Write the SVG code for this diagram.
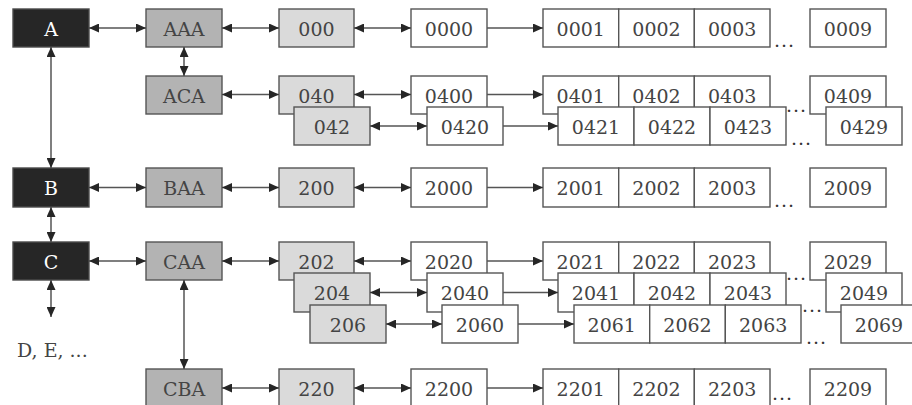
<svg xmlns="http://www.w3.org/2000/svg" width="912" height="405" viewBox="0 0 912 405">
<defs>
<marker id="ah" markerUnits="userSpaceOnUse" markerWidth="10" markerHeight="9" refX="10" refY="4.5" orient="auto-start-reverse" viewBox="0 0 10 9">
<path d="M0,0 L10,4.5 L0,9 z" fill="#262626"/>
</marker>
</defs>
<style>
g rect{stroke:#555;stroke-width:1.4}
.dk rect{fill:#262626;stroke:#4a4a4a}
.md rect{fill:#b3b3b3}
.lt rect{fill:#dadada}
.wh rect{fill:#fff}
text{font-family:"DejaVu Serif","Liberation Serif",serif;font-size:19px;fill:#444;text-anchor:middle}
.dk text{fill:#fff}
.dots{text-anchor:start;letter-spacing:1px;fill:#333}
#connectors line{stroke:#555;stroke-width:1.5}
.d{marker-start:url(#ah);marker-end:url(#ah)}
.s{marker-end:url(#ah)}
</style>
<rect x="0" y="0" width="912" height="405" fill="#fff"/>

<!-- Row A -->
<g id="nA" class="dk"><rect x="13" y="9" width="76" height="38"/><text x="51" y="36">A</text></g>
<g id="nAAA" class="md"><rect x="146" y="9" width="76" height="38"/><text x="184" y="36">AAA</text></g>
<g id="n000" class="lt"><rect x="279" y="9" width="75" height="38"/><text x="316.5" y="36">000</text></g>
<g id="n0000" class="wh"><rect x="411" y="9" width="76" height="38"/><text x="449" y="36">0000</text></g>
<g id="n0001" class="wh"><rect x="543" y="9" width="75.7" height="38"/><text x="580.8" y="36">0001</text></g>
<g id="n0002" class="wh"><rect x="618.7" y="9" width="75.7" height="38"/><text x="656.5" y="36">0002</text></g>
<g id="n0003" class="wh"><rect x="694.3" y="9" width="75.7" height="38"/><text x="732.2" y="36">0003</text></g>
<text class="dots" x="774" y="47">...</text>
<g id="n0009" class="wh"><rect x="810" y="9" width="76" height="38"/><text x="848" y="36">0009</text></g>

<!-- Row ACA -->
<g id="nACA" class="md"><rect x="146" y="76" width="76" height="38"/><text x="184" y="103">ACA</text></g>
<g id="n040" class="lt"><rect x="279" y="76" width="75" height="38"/><text x="316.5" y="103">040</text></g>
<g id="n0400" class="wh"><rect x="411" y="76" width="76" height="38"/><text x="449" y="103">0400</text></g>
<g id="n0401" class="wh"><rect x="543" y="76" width="75.7" height="38"/><text x="580.8" y="103">0401</text></g>
<g id="n0402" class="wh"><rect x="618.7" y="76" width="75.7" height="38"/><text x="656.5" y="103">0402</text></g>
<g id="n0403" class="wh"><rect x="694.3" y="76" width="75.7" height="38"/><text x="732.2" y="103">0403</text></g>
<g id="n0409" class="wh"><rect x="810" y="76" width="76" height="38"/><text x="848" y="103">0409</text></g>

<!-- Row 042 -->
<g id="n042" class="lt"><rect x="294" y="107" width="76" height="38"/><text x="332" y="134">042</text></g>
<g id="n0420" class="wh"><rect x="427" y="107" width="76" height="38"/><text x="465" y="134">0420</text></g>
<g id="n0421" class="wh"><rect x="558" y="107" width="76" height="38"/><text x="596" y="134">0421</text></g>
<g id="n0422" class="wh"><rect x="634" y="107" width="76" height="38"/><text x="672" y="134">0422</text></g>
<g id="n0423" class="wh"><rect x="710" y="107" width="76" height="38"/><text x="748" y="134">0423</text></g>
<text class="dots" x="786" y="112">...</text>
<text class="dots" x="791" y="145">...</text>
<g id="n0429" class="wh"><rect x="826" y="107" width="76" height="38"/><text x="864" y="134">0429</text></g>

<!-- Row B -->
<g id="nB" class="dk"><rect x="13" y="168" width="76" height="39"/><text x="51" y="195">B</text></g>
<g id="nBAA" class="md"><rect x="146" y="168" width="76" height="39"/><text x="184" y="195">BAA</text></g>
<g id="n200" class="lt"><rect x="279" y="168" width="75" height="39"/><text x="316.5" y="195">200</text></g>
<g id="n2000" class="wh"><rect x="411" y="168" width="76" height="39"/><text x="449" y="195">2000</text></g>
<g id="n2001" class="wh"><rect x="543" y="168" width="75.7" height="39"/><text x="580.8" y="195">2001</text></g>
<g id="n2002" class="wh"><rect x="618.7" y="168" width="75.7" height="39"/><text x="656.5" y="195">2002</text></g>
<g id="n2003" class="wh"><rect x="694.3" y="168" width="75.7" height="39"/><text x="732.2" y="195">2003</text></g>
<text class="dots" x="774" y="207">...</text>
<g id="n2009" class="wh"><rect x="810" y="168" width="76" height="39"/><text x="848" y="195">2009</text></g>

<!-- Row C -->
<g id="nC" class="dk"><rect x="13" y="242" width="76" height="38"/><text x="51" y="269">C</text></g>
<g id="nCAA" class="md"><rect x="146" y="242" width="76" height="38"/><text x="184" y="269">CAA</text></g>
<g id="n202" class="lt"><rect x="279" y="242" width="75" height="38"/><text x="316.5" y="269">202</text></g>
<g id="n2020" class="wh"><rect x="411" y="242" width="76" height="38"/><text x="449" y="269">2020</text></g>
<g id="n2021" class="wh"><rect x="543" y="242" width="75.7" height="38"/><text x="580.8" y="269">2021</text></g>
<g id="n2022" class="wh"><rect x="618.7" y="242" width="75.7" height="38"/><text x="656.5" y="269">2022</text></g>
<g id="n2023" class="wh"><rect x="694.3" y="242" width="75.7" height="38"/><text x="732.2" y="269">2023</text></g>
<g id="n2029" class="wh"><rect x="810" y="242" width="76" height="38"/><text x="848" y="269">2029</text></g>

<!-- Row 204 -->
<g id="n204" class="lt"><rect x="294" y="273" width="76" height="39"/><text x="332" y="300">204</text></g>
<g id="n2040" class="wh"><rect x="427" y="273" width="76" height="39"/><text x="465" y="300">2040</text></g>
<g id="n2041" class="wh"><rect x="558" y="273" width="76" height="39"/><text x="596" y="300">2041</text></g>
<g id="n2042" class="wh"><rect x="634" y="273" width="76" height="39"/><text x="672" y="300">2042</text></g>
<g id="n2043" class="wh"><rect x="710" y="273" width="76" height="39"/><text x="748" y="300">2043</text></g>
<text class="dots" x="786" y="280">...</text>
<g id="n2049" class="wh"><rect x="826" y="273" width="76" height="39"/><text x="864" y="300">2049</text></g>

<!-- Row 206 -->
<g id="n206" class="lt"><rect x="310" y="305" width="76" height="38"/><text x="348" y="332">206</text></g>
<g id="n2060" class="wh"><rect x="442" y="305" width="76" height="38"/><text x="480" y="332">2060</text></g>
<g id="n2061" class="wh"><rect x="574" y="305" width="75.7" height="38"/><text x="611.8" y="332">2061</text></g>
<g id="n2062" class="wh"><rect x="649.7" y="305" width="75.7" height="38"/><text x="687.5" y="332">2062</text></g>
<g id="n2063" class="wh"><rect x="725.3" y="305" width="75.7" height="38"/><text x="763.2" y="332">2063</text></g>
<text class="dots" x="802" y="312">...</text>
<text class="dots" x="806" y="344">...</text>
<g id="n2069" class="wh"><rect x="841" y="305" width="76" height="38"/><text x="879" y="332">2069</text></g>

<!-- Row CBA -->
<g id="nCBA" class="md"><rect x="146" y="369" width="76" height="38"/><text x="184" y="396">CBA</text></g>
<g id="n220" class="lt"><rect x="279" y="369" width="75" height="38"/><text x="316.5" y="396">220</text></g>
<g id="n2200" class="wh"><rect x="411" y="369" width="76" height="38"/><text x="449" y="396">2200</text></g>
<g id="n2201" class="wh"><rect x="543" y="369" width="75.7" height="38"/><text x="580.8" y="396">2201</text></g>
<g id="n2202" class="wh"><rect x="618.7" y="369" width="75.7" height="38"/><text x="656.5" y="396">2202</text></g>
<g id="n2203" class="wh"><rect x="694.3" y="369" width="75.7" height="38"/><text x="732.2" y="396">2203</text></g>
<text class="dots" x="772" y="400">...</text>
<g id="n2209" class="wh"><rect x="810" y="369" width="76" height="38"/><text x="848" y="396">2209</text></g>

<g id="nDE"><text x="17" y="357" style="text-anchor:start">D, E, ...</text></g>

<g id="connectors">
<line class="d" x1="89" y1="28" x2="146" y2="28"/>
<line class="d" x1="222" y1="28" x2="279" y2="28"/>
<line class="d" x1="354" y1="28" x2="411" y2="28"/>
<line class="s" x1="487" y1="28" x2="543" y2="28"/>
<line class="d" x1="222" y1="94.5" x2="279" y2="94.5"/>
<line class="d" x1="354" y1="94.5" x2="411" y2="94.5"/>
<line class="s" x1="487" y1="94.5" x2="543" y2="94.5"/>
<line class="d" x1="370" y1="126" x2="427" y2="126"/>
<line class="s" x1="503" y1="126" x2="558" y2="126"/>
<line class="d" x1="89" y1="187.5" x2="146" y2="187.5"/>
<line class="d" x1="222" y1="187.5" x2="279" y2="187.5"/>
<line class="d" x1="354" y1="187.5" x2="411" y2="187.5"/>
<line class="s" x1="487" y1="187.5" x2="543" y2="187.5"/>
<line class="d" x1="89" y1="261" x2="146" y2="261"/>
<line class="d" x1="222" y1="261" x2="279" y2="261"/>
<line class="d" x1="354" y1="261" x2="411" y2="261"/>
<line class="s" x1="487" y1="261" x2="543" y2="261"/>
<line class="d" x1="370" y1="292.5" x2="427" y2="292.5"/>
<line class="s" x1="503" y1="292.5" x2="558" y2="292.5"/>
<line class="d" x1="386" y1="324" x2="442" y2="324"/>
<line class="s" x1="518" y1="324" x2="574" y2="324"/>
<line class="d" x1="222" y1="388" x2="279" y2="388"/>
<line class="d" x1="354" y1="388" x2="411" y2="388"/>
<line class="s" x1="487" y1="388" x2="543" y2="388"/>
<line class="d" x1="51" y1="47" x2="51" y2="168"/>
<line class="d" x1="51" y1="207" x2="51" y2="242"/>
<line class="d" x1="51" y1="280" x2="51" y2="317"/>
<line class="d" x1="184" y1="47" x2="184" y2="76"/>
<line class="d" x1="184" y1="280" x2="184" y2="369"/>
</g>
</svg>
